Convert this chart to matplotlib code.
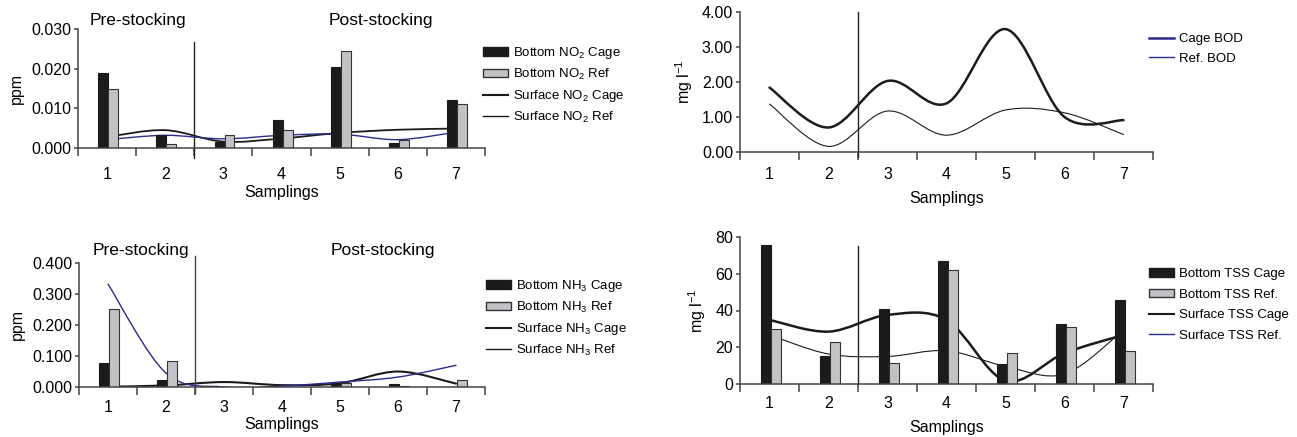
import matplotlib
matplotlib.use("Agg")
import matplotlib.pyplot as plt
import numpy as np
from matplotlib.path import Path
from matplotlib.patches import PathPatch, Patch
from matplotlib.lines import Line2D

plt.rcParams['font.family'] = ['Liberation Sans', 'DejaVu Sans']
plt.rcParams['mathtext.fontset'] = 'custom'
plt.rcParams['mathtext.rm'] = 'Liberation Sans'
plt.rcParams['mathtext.it'] = 'Liberation Sans'

# --- data
samplings = [1, 2, 3, 4, 5, 6, 7]
tick_labels = ['1', '2', '3', '4', '5', '6', '7']

no2_bottom_cage = [0.0188, 0.0033, 0.0014, 0.0071, 0.0203, 0.0012, 0.0121]
no2_bottom_ref = [0.0150, 0.0011, 0.0033, 0.0045, 0.0245, 0.0019, 0.0110]
no2_surface_cage = [0.0028, 0.0045, 0.0016, 0.0024, 0.0038, 0.0046, 0.0049]
no2_surface_ref = [0.0021, 0.0032, 0.0023, 0.0032, 0.0035, 0.0021, 0.0040]

nh3_bottom_cage = [0.078, 0.024, 0.001, 0.001, 0.010, 0.010, 0.001]
nh3_bottom_ref = [0.251, 0.084, 0.001, 0.001, 0.013, 0.003, 0.022]
nh3_surface_cage = [0.001, 0.005, 0.016, 0.006, 0.012, 0.050, 0.011]
nh3_surface_ref = [0.332, 0.045, 0.000, 0.003, 0.016, 0.032, 0.070]

bod_cage = [1.84, 0.70, 2.03, 1.39, 3.51, 1.00, 0.91]
bod_ref = [1.37, 0.16, 1.17, 0.48, 1.20, 1.12, 0.50]

tss_bottom_cage = [75.9, 15.0, 40.8, 67.0, 10.7, 32.9, 45.7]
tss_bottom_ref = [30.0, 22.6, 11.7, 61.8, 17.0, 31.2, 18.0]
tss_surface_cage = [34.9, 28.5, 37.6, 34.9, 1.8, 16.8, 26.7]
tss_surface_ref = [26.7, 16.3, 15.0, 18.1, 9.6, 5.4, 29.4]
# ---

W, H = 1297, 437
BLUE = '#2b2b90'
DARK = '#1c1a1b'
GREY = '#c2c2c6'
AXC = '#444444'


def box(l, t, r, b):
    # pixel box -> figure fraction
    return [l / W, (H - b) / H, (r - l) / W, (b - t) / H]


def smooth(ax, xs, ys, color, lw):
    # smoothed line like the spreadsheet: cubic bezier segments through the points
    xs = np.asarray(xs, float)
    ys = np.asarray(ys, float)
    pts = np.column_stack([xs, ys])
    n = len(pts)
    verts = [pts[0]]
    codes = [Path.MOVETO]
    for i in range(n - 1):
        p0 = pts[max(i - 1, 0)]
        p1 = pts[i]
        p2 = pts[i + 1]
        p3 = pts[min(i + 2, n - 1)]
        verts += [p1 + (p2 - p0) / 6, p2 - (p3 - p1) / 6, p2]
        codes += [Path.CURVE4] * 3
    ax.add_patch(PathPatch(Path(verts, codes), facecolor='none',
                           edgecolor=color, lw=lw, capstyle='round'))


def base_axes(rect, ylim, yticks, yfmt, ylabel, xpad, xlabelpad):
    ax = fig.add_axes(rect)
    ax.set_xlim(0.5, 7.5)
    ax.set_ylim(*ylim)
    for s in ['top', 'right']:
        ax.spines[s].set_visible(False)
    for s in ['left', 'bottom']:
        ax.spines[s].set_color(AXC)
        ax.spines[s].set_linewidth(1.1)
    ax.set_xticks(np.arange(0.5, 8.0, 1.0))
    ax.set_xticklabels([])
    ax.set_xticks(samplings, minor=True)
    ax.set_xticklabels(tick_labels, minor=True, fontsize=11.5)
    ax.tick_params(axis='x', which='major', direction='out', length=6,
                   width=1.1, color=AXC)
    ax.tick_params(axis='x', which='minor', length=0, pad=xpad)
    ax.set_yticks(yticks)
    ax.set_yticklabels([yfmt.format(v) for v in yticks], fontsize=11.5)
    ax.tick_params(axis='y', direction='out', length=3, width=1.1,
                   color=AXC, pad=2)
    ax.set_xlabel('Samplings', fontsize=11.5, labelpad=xlabelpad)
    ax.set_ylabel(ylabel, fontsize=11.5, labelpad=5)
    return ax


def bars(ax, cage, ref, width=0.17):
    x = np.array(samplings, float)
    ax.bar(x - width / 2 + 0.02, cage, width, color=DARK, edgecolor=DARK,
           lw=0.8, zorder=2)
    ax.bar(x + width / 2 + 0.02, ref, width, color=GREY, edgecolor='#333333',
           lw=0.8, zorder=2)


def legend(handles, labels, x, y, spacing):
    fig.legend(handles, labels, loc='upper left',
               bbox_to_anchor=(x / W, 1 - y / H), frameon=False,
               fontsize=9.5, handlelength=1.9, handleheight=0.6,
               handletextpad=0.4, labelspacing=spacing, borderaxespad=0,
               borderpad=0)


fig = plt.figure(figsize=(W / 100, H / 100), dpi=100)

# --- NO2
ax1 = base_axes(box(78, 29, 485, 148), (0, 0.030), [0, 0.010, 0.020, 0.030],
                '{:.3f}', 'ppm', 14, 2)
bars(ax1, no2_bottom_cage, no2_bottom_ref)
smooth(ax1, samplings, no2_surface_cage, DARK, 1.3)
smooth(ax1, samplings, no2_surface_ref, BLUE, 1.0)
ax1.axvline(2.5, ymin=-0.08, ymax=0.89, color='#222222', lw=1.0, clip_on=False)
fig.text(138 / W, 1 - 21 / H, 'Pre-stocking', ha='center', va='center', fontsize=12.5)
fig.text(381 / W, 1 - 21 / H, 'Post-stocking', ha='center', va='center', fontsize=12.5)
legend([Patch(facecolor=DARK, edgecolor=DARK),
        Patch(facecolor=GREY, edgecolor='#333333'),
        Line2D([], [], color=DARK, lw=1.5),
        Line2D([], [], color=DARK, lw=1.0)],
       ['Bottom NO$_2$ Cage', 'Bottom NO$_2$ Ref',
        'Surface NO$_2$ Cage', 'Surface NO$_2$ Ref'], 483, 45, 0.45)

# --- NH3
ax3 = base_axes(box(79, 263, 485, 387), (0, 0.400),
                [0, 0.100, 0.200, 0.300, 0.400], '{:.3f}', 'ppm', 9, 2)
bars(ax3, nh3_bottom_cage, nh3_bottom_ref)
smooth(ax3, samplings, nh3_surface_cage, DARK, 1.5)
smooth(ax3, samplings, nh3_surface_ref, BLUE, 1.0)
ax3.axvline(2.5, ymin=-0.05, ymax=1.06, color='#444444', lw=1.0, clip_on=False)
fig.text(141 / W, 1 - 250 / H, 'Pre-stocking', ha='center', va='center', fontsize=12.5)
fig.text(383 / W, 1 - 250 / H, 'Post-stocking', ha='center', va='center', fontsize=12.5)
legend([Patch(facecolor=DARK, edgecolor=DARK),
        Patch(facecolor=GREY, edgecolor='#333333'),
        Line2D([], [], color=DARK, lw=1.5),
        Line2D([], [], color=DARK, lw=1.0)],
       ['Bottom NH$_3$ Cage', 'Bottom NH$_3$ Ref',
        'Surface NH$_3$ Cage', 'Surface NH$_3$ Ref'], 486, 278, 0.45)

# --- BOD
ax2 = base_axes(box(740, 12, 1153, 152), (0, 4.0),
                [0, 1.0, 2.0, 3.0, 4.0], '{:.2f}', 'mg l$^{-1}$', 11, 6)
smooth(ax2, samplings, bod_cage, DARK, 1.8)
smooth(ax2, samplings, bod_ref, DARK, 0.8)
ax2.axvline(2.5, ymin=-0.035, ymax=1.0, color='#222222', lw=1.0, clip_on=False)
legend([Line2D([], [], color=BLUE, lw=1.8),
        Line2D([], [], color=BLUE, lw=1.0)],
       ['Cage BOD', 'Ref. BOD'], 1149, 33, 0.6)

# --- TSS
ax4 = base_axes(box(740, 237, 1153, 384), (0, 80),
                [0, 20, 40, 60, 80], '{:.0f}', 'mg l$^{-1}$', 9, 6)
bars(ax4, tss_bottom_cage, tss_bottom_ref)
smooth(ax4, samplings, tss_surface_cage, DARK, 1.8)
smooth(ax4, samplings, tss_surface_ref, DARK, 0.8)
ax4.axvline(2.5, ymin=0, ymax=0.94, color='#222222', lw=1.0, clip_on=False)
legend([Patch(facecolor=DARK, edgecolor=DARK),
        Patch(facecolor=GREY, edgecolor='#333333'),
        Line2D([], [], color=DARK, lw=1.5),
        Line2D([], [], color=BLUE, lw=1.0)],
       ['Bottom TSS Cage', 'Bottom TSS Ref.',
        'Surface TSS Cage', 'Surface TSS Ref.'], 1149, 268, 0.65)

fig.savefig('out.png', dpi=100)
